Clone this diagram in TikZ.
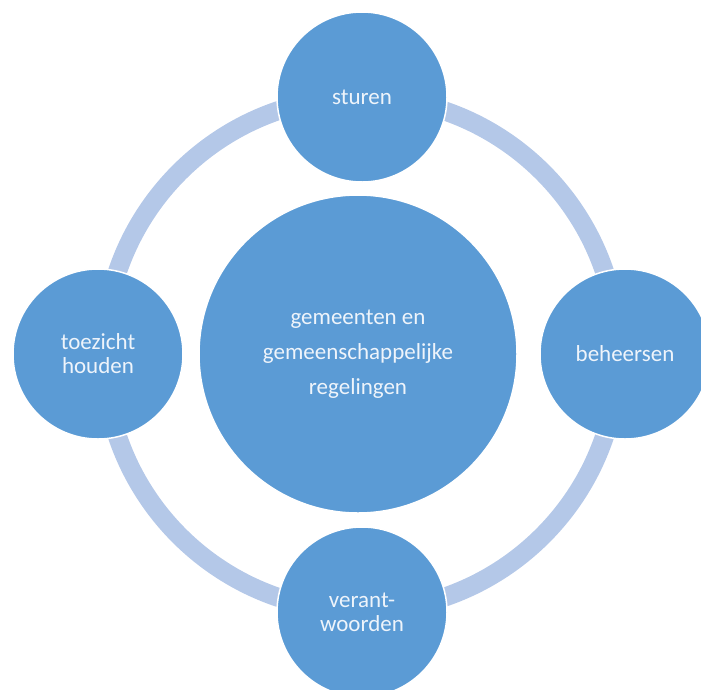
\documentclass[tikz,border=0pt]{standalone}
\usepackage{fontspec}
\setmainfont{Carlito}
\definecolor{ballblue}{HTML}{5B9BD5}
\definecolor{ringblue}{HTML}{B4C8E8}
\definecolor{txt}{HTML}{EEF4FB}
\begin{document}
\begin{tikzpicture}[x=1pt,y=-1pt,
  ball/.style={circle,fill=ballblue,draw=white,line width=1.5pt,inner sep=0pt,
    text=txt,font=\fontsize{23}{24}\selectfont,align=center},
  small/.style={ball,minimum size=170pt},
  big/.style={ball,minimum size=318pt,font=\fontsize{23}{35}\selectfont}]
\useasboundingbox (0,0) rectangle (701,689);
\coordinate (c) at (361,354);
\draw[ringblue,line width=19pt] (c) circle[radius=257];
\node[big] (mid) at (358,354) {gemeenten en\\gemeenschappelijke\\regelingen};
\node[small] (top) at (362,97) {sturen};
\node[small] (left) at (98,354) {toezicht\\houden};
\node[small] (right) at (625,354) {beheersen};
\node[small] (bottom) at (362,612) {verant-\\woorden};
\end{tikzpicture}
\end{document}
